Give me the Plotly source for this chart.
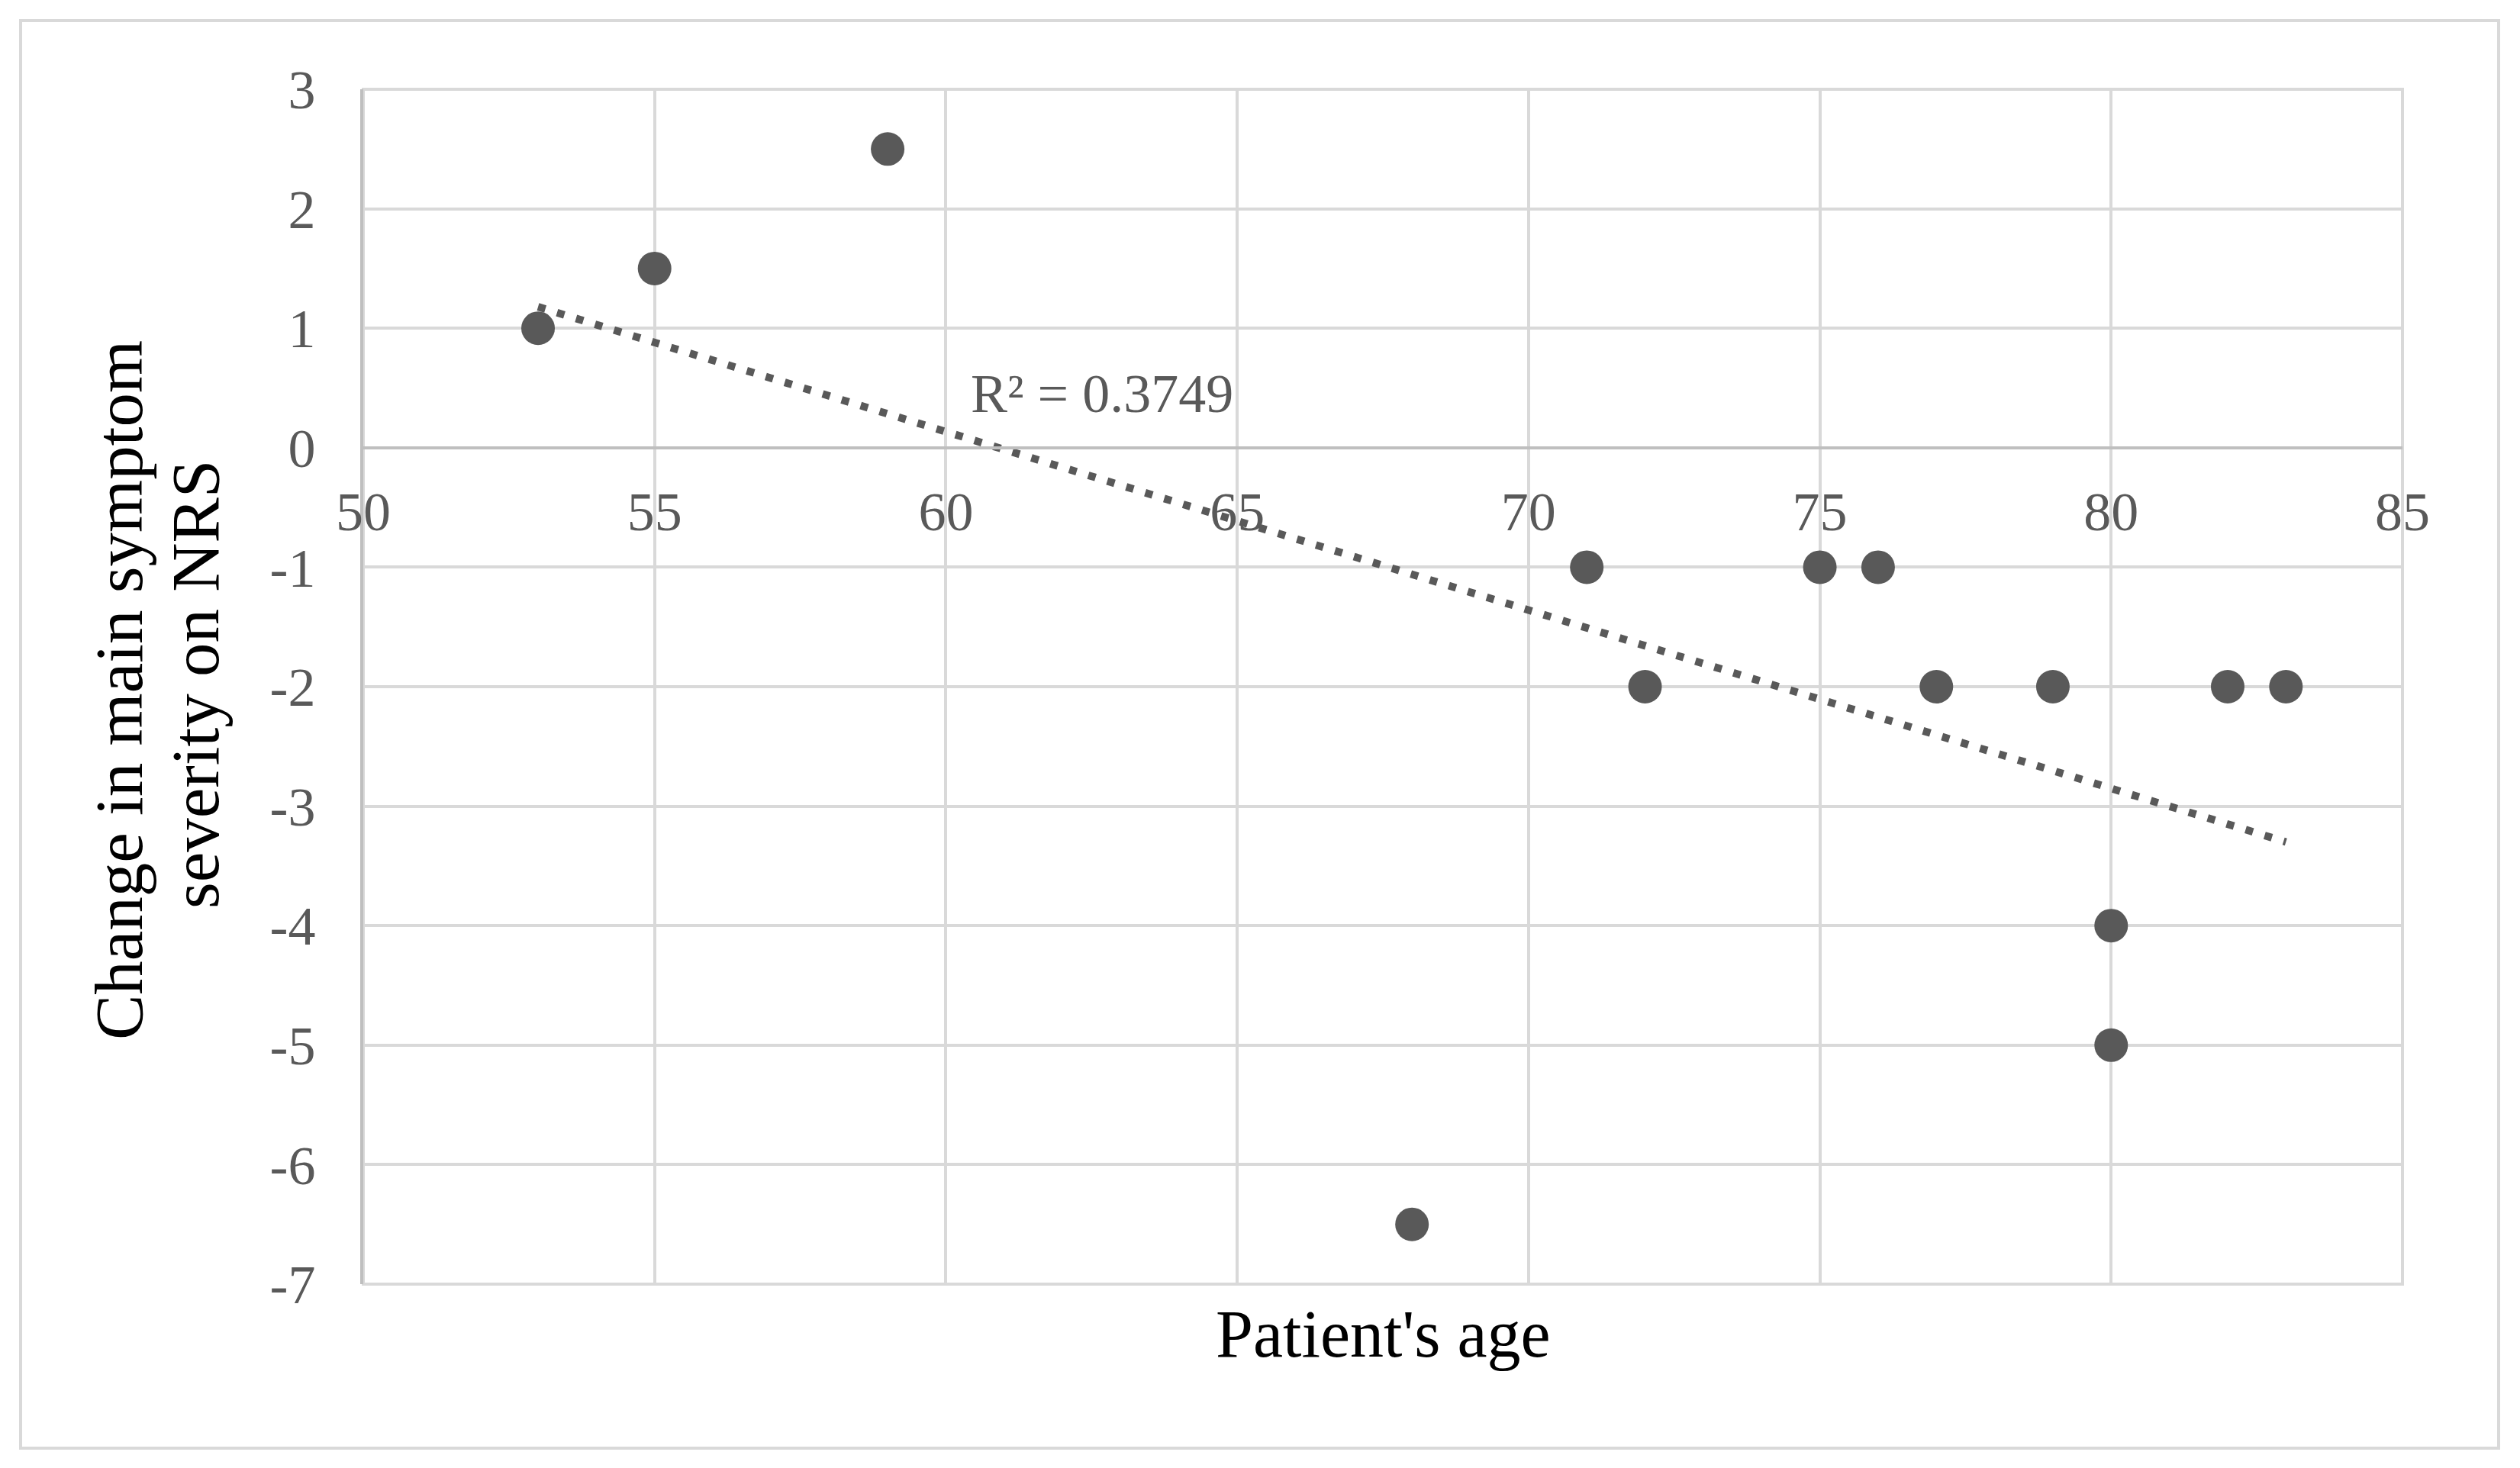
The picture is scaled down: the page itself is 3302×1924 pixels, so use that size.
import numpy as np
import plotly.graph_objects as go

# Data
patient_age = [53, 55, 59, 68, 71, 72, 75, 76, 77, 79, 80, 80, 82, 83]
nrs_change = [1, 1.5, 2.5, -6.5, -1, -2, -1, -1, -2, -2, -4, -5, -2, -2]
x_ticks = [50, 55, 60, 65, 70, 75, 80, 85]
y_ticks = [-7, -6, -5, -4, -3, -2, -1, 0, 1, 2, 3]
r2_label = "R\u00b2 = 0.3749"
x_title = "Patient's age"
y_title_lines = ["Change in main symptom", "severity on NRS"]

# Linear trendline from the data
coef = np.polyfit(patient_age, nrs_change, 1)
trend_x = [min(patient_age), max(patient_age)]
trend_y = [float(np.polyval(coef, v)) for v in trend_x]

W, H = 3302, 1924
ML, MR, MT, MB = 476, 154, 117, 241
pw = W - ML - MR
ph = H - MT - MB

FONT = "Liberation Serif"
GRID = "#d9d9d9"
AXIS = "#bfbfbf"
TXT = "#595959"
MARK = "#595959"


def px_x(px):
    return (px - ML) / pw


def px_y(py):
    return (H - MB - py) / ph


fig = go.Figure()
fig.add_trace(go.Scatter(
    x=trend_x, y=trend_y, mode="lines",
    line=dict(color=MARK, width=10, dash="10px,16px"),
    hoverinfo="skip", showlegend=False,
))
fig.add_trace(go.Scatter(
    x=patient_age, y=nrs_change, mode="markers",
    marker=dict(color=MARK, size=44, line=dict(width=0)),
    showlegend=False,
))

annotations = [
    dict(text=r2_label, x=60.4, y=0.45, xref="x", yref="y",
         xanchor="left", yanchor="middle", showarrow=False,
         font=dict(family=FONT, size=72, color=TXT)),
    dict(text=x_title, x=0.5, y=px_y(1748), xref="paper", yref="paper",
         xanchor="center", yanchor="middle", showarrow=False,
         font=dict(family=FONT, size=88, color="#000000")),
]
for line_text, cx, cy in zip(y_title_lines, [156, 256], [905, 897]):
    annotations.append(dict(
        text=line_text, x=px_x(cx), y=px_y(cy), xref="paper", yref="paper",
        xanchor="center", yanchor="middle", showarrow=False, textangle=-90,
        font=dict(family=FONT, size=89, color="#000000")))

fig.update_layout(
    width=W, height=H,
    margin=dict(l=ML, r=MR, t=MT, b=MB, pad=0),
    paper_bgcolor="white", plot_bgcolor="white",
    font=dict(family=FONT, color=TXT, size=72),
    xaxis=dict(
        range=[50, 85], tickvals=x_ticks, ticktext=[str(v) for v in x_ticks],
        showgrid=True, gridcolor=GRID, gridwidth=4,
        zeroline=False, showline=True, linecolor=AXIS, linewidth=4,
        anchor="free", position=0.7, ticks="", ticklabelstandoff=20,
        tickfont=dict(family=FONT, size=72, color=TXT),
    ),
    yaxis=dict(
        range=[-7, 3], tickvals=y_ticks, ticktext=[str(v) for v in y_ticks],
        showgrid=True, gridcolor=GRID, gridwidth=4,
        zeroline=False, showline=True, linecolor=AXIS, linewidth=4,
        ticks="", ticklabelstandoff=44,
        tickfont=dict(family=FONT, size=72, color=TXT),
    ),
    shapes=[
        dict(type="rect", xref="x domain", yref="y domain", x0=0, x1=1, y0=0, y1=1,
             line=dict(color=GRID, width=4), layer="below"),
        dict(type="rect", xref="paper", yref="paper",
             x0=px_x(27), x1=px_x(3274), y0=px_y(1898), y1=px_y(27),
             line=dict(color=GRID, width=4), layer="below"),
    ],
    annotations=annotations,
)

fig.write_html("out.html", config={"displayModeBar": False},
               post_script="document.body.style.margin='0px';")
